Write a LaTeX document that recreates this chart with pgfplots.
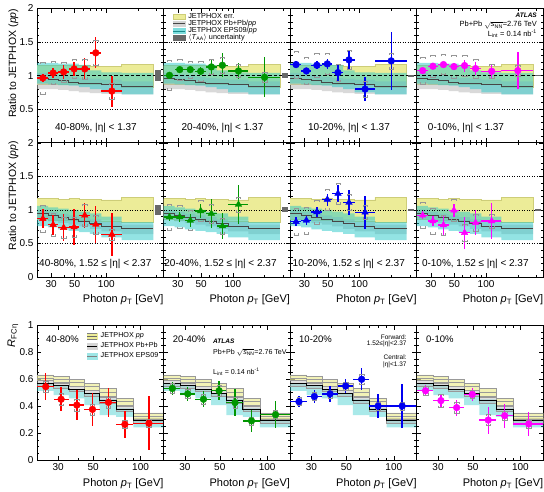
\documentclass[border=0pt]{standalone}
\usepackage{amsmath}
\usepackage{fontspec}
\setmainfont{Liberation Sans}
\usepackage{pgfplots}
\usepackage{pgfplotstable}
\pgfplotsset{compat=1.18}

\definecolor{yelF}{RGB}{236,236,152}
\definecolor{yelL}{RGB}{205,205,120}
\definecolor{grF}{RGB}{185,185,185}
\definecolor{cyF}{RGB}{40,200,200}
\definecolor{lnD}{RGB}{70,70,70}
\definecolor{taaG}{RGB}{105,105,105}
\definecolor{sysG}{RGB}{150,150,150}
\definecolor{cRed}{RGB}{255,0,0}
\definecolor{cGreen}{RGB}{0,150,0}
\definecolor{cBlue}{RGB}{0,0,240}
\definecolor{cMag}{RGB}{255,0,255}

\newcommand{\fsz}[1]{\fontsize{#1}{#1}\selectfont}

% systematic brackets
\pgfdeclareplotmark{brT}{%
  \pgfpathmoveto{\pgfqpoint{-2.2pt}{-1.8pt}}\pgfpathlineto{\pgfqpoint{-2.2pt}{0pt}}%
  \pgfpathlineto{\pgfqpoint{2.2pt}{0pt}}\pgfpathlineto{\pgfqpoint{2.2pt}{-1.8pt}}\pgfusepathqstroke}
\pgfdeclareplotmark{brB}{%
  \pgfpathmoveto{\pgfqpoint{-2.2pt}{1.8pt}}\pgfpathlineto{\pgfqpoint{-2.2pt}{0pt}}%
  \pgfpathlineto{\pgfqpoint{2.2pt}{0pt}}\pgfpathlineto{\pgfqpoint{2.2pt}{1.8pt}}\pgfusepathqstroke}

% data: central |eta|<1.37, ratio to JETPHOX
\pgfplotstableread{
x    lo  hi  y1    e1    s1   y2    e2   s2   y3    e3   s3   y4    e4   s4
25   22  28  0.965 0.065 0.24 1.005 0.05 0.22 1.165 0.05 0.20 1.075 0.04 0.20
31.3 28  35  1.04  0.08  0.17 1.09  0.04 0.16 1.07  0.05 0.20 1.14  0.04 0.17
39.4 35  44  1.055 0.10  0.15 1.09  0.04 0.13 1.155 0.06 0.18 1.165 0.04 0.15
49.5 44  55  1.10  0.10  0.14 1.065 0.06 0.15 1.175 0.07 0.16 1.135 0.05 0.17
62.5 55  70  1.10  0.17  0.15 1.13  0.12 0.11 1.045 0.12 0.13 1.15  0.09 0.16
79.5 70  90  1.34  0.23  0.19 1.155 0.18 0.12 1.235 0.13 0.14 1.105 0.10 0.14
113  90  140 0.77  0.23  0.12 1.07  0.12 0.10 0.80  0.18 0.12 1.065 0.10 0.10
}\datA
\pgfplotstableread{
x    lo  hi  y2    e2   s2   y3    e3   s3   y4    e4   s4
200  140 280 0.975 0.30 0.07 1.22  0.43 0.12 1.075 0.27 0.08
}\datAx
% forward 1.52<|eta|<2.37
\pgfplotstableread{
x    lo  hi  y1    e1   s1   y2    e2   s2   y3    e3   s3   y4    e4   s4
25   22  28  0.87  0.14 0.20 0.895 0.06 0.19 0.825 0.07 0.20 0.92  0.06 0.19
31.3 28  35  0.78  0.15 0.17 0.895 0.07 0.17 0.845 0.07 0.20 0.835 0.07 0.19
39.4 35  44  0.735 0.20 0.15 0.845 0.10 0.15 0.97  0.08 0.18 0.775 0.15 0.15
49.5 44  55  0.745 0.27 0.15 0.985 0.10 0.16 1.155 0.09 0.16 0.995 0.10 0.16
62.5 55  70  0.92  0.19 0.16 0.945 0.22 0.14 1.245 0.12 0.16 0.66  0.24 0.13
79.5 70  90  0.785 0.27 0.14 0.76  0.19 0.12 1.11  0.19 0.12 0.81  0.19 0.12
113  90  140 0.635 0.32 0.08 1.08  0.29 0.11 0.965 0.25 0.10 0.835 0.27 0.10
}\datB
% R_FCeta
\pgfplotstableread{
x    lo  hi  y1    e1   s1    y2    e2   s2    y3    e3   s3   y4    e4   s4
25   22  28  0.543 0.10 0.04  0.53  0.05 0.035 0.432 0.04 0.03 0.513 0.04 0.03
31.3 28  35  0.45  0.09 0.045 0.49  0.05 0.035 0.47  0.05 0.03 0.44  0.05 0.05
39.4 35  44  0.407 0.11 0.045 0.45  0.06 0.04  0.49  0.06 0.03 0.388 0.06 0.04
49.5 44  55  0.375 0.12 0.04  0.513 0.07 0.04  0.548 0.05 0.03 0.486 0.05 0.03
62.5 55  70  0.427 0.11 0.04  0.425 0.10 0.04  0.598 0.08 0.04 0.296 0.10 0.04
79.5 70  90  0.264 0.10 0.03  0.29  0.08 0.03  0.40  0.09 0.03 0.328 0.09 0.03
113  90  140 0.272 0.20 0.03  0.336 0.10 0.03  0.40  0.16 0.03 0.267 0.09 0.03
}\datC

\pgfplotsset{
  dotl/.style={black, line width=0.8pt, dash pattern=on 0.9pt off 1.6pt, forget plot},
  dashl/.style={black, line width=0.8pt, dash pattern=on 3.5pt off 2pt, forget plot},
}

% axis wrappers (options written out, not in a style)
\newcommand{\topaxis}[2]{%
\begin{axis}[/pgfplots/xmode=log, scale only axis, width=126.6pt, height=134.3pt,
  xmin=22, xmax=350, ymin=0, ymax=2,
  tick align=inside, major tick length=4.5pt, minor tick length=2.5pt,
  axis line style={line width=0.8pt}, tick style={black, line width=0.5pt},
  ticklabel style={font=\fsz{10}},
  xtick={30,50,100}, xticklabels={}, yticklabels={},
  minor xtick={40,60,70,80,90,200,300},
  ytick={0,0.5,1,1.5,2}, minor y tick num=4, #1]
#2
\end{axis}}
\newcommand{\botaxis}[2]{%
\begin{axis}[/pgfplots/xmode=log, scale only axis, width=126.6pt, height=135pt,
  xmin=22, xmax=140, ymin=0, ymax=1,
  tick align=inside, major tick length=4.5pt, minor tick length=2.5pt,
  axis line style={line width=0.8pt}, tick style={black, line width=0.5pt},
  ticklabel style={font=\fsz{10}},
  xtick={30,50,100}, xticklabels={30,50,100}, yticklabels={},
  minor xtick={40,60,70,80,90},
  ytick={0,0.2,0.4,0.6,0.8,1}, minor y tick num=3, #1]
#2
\end{axis}}

% theory bands (step polygons: upper edge left to right, lower edge back)
\newcommand{\bandsA}{%
  \addplot[const plot, fill=yelF, draw=yelL, line width=0.4pt, forget plot] coordinates {
    (22,1.15)(28,1.15)(35,1.15)(44,1.15)(55,1.15)(70,1.14)(90,1.14)(140,1.17)(280,1.17)
    (280,0.83)(140,0.87)(90,0.88)(70,0.87)(55,0.87)(44,0.87)(35,0.87)(28,0.87)(22,0.87)};
  \addplot[const plot, fill=grF, fill opacity=0.55, draw=none, forget plot] coordinates {
    (22,1.04)(28,1.02)(35,1.005)(44,0.98)(55,0.965)(70,0.955)(90,0.94)(140,0.915)(280,0.915)
    (280,0.72)(140,0.73)(90,0.74)(70,0.75)(55,0.77)(44,0.79)(35,0.80)(28,0.80)(22,0.80)};
  \addplot[const plot, fill=cyF, fill opacity=0.5, draw=none, forget plot] coordinates {
    (22,1.19)(28,1.19)(35,1.18)(44,1.18)(55,1.16)(70,1.08)(90,1.05)(140,1.04)(280,1.04)
    (280,0.72)(140,0.75)(90,0.80)(70,0.83)(55,0.85)(44,0.86)(35,0.87)(28,0.88)(22,0.88)};
  \addplot[const plot, lnD, line width=1pt, forget plot] coordinates {
    (22,0.965)(28,0.945)(35,0.93)(44,0.905)(55,0.89)(70,0.88)(90,0.865)(140,0.84)(280,0.84)};
}
\newcommand{\bandsB}{%
  \addplot[const plot, fill=yelF, draw=yelL, line width=0.4pt, forget plot] coordinates {
    (22,1.17)(28,1.17)(35,1.16)(44,1.17)(55,1.16)(70,1.16)(90,1.15)(140,1.19)(280,1.19)
    (280,0.82)(140,0.84)(90,0.84)(70,0.85)(55,0.85)(44,0.85)(35,0.85)(28,0.86)(22,0.86)};
  \addplot[const plot, fill=grF, fill opacity=0.55, draw=none, forget plot] coordinates {
    (22,1.005)(28,0.97)(35,0.945)(44,0.92)(55,0.895)(70,0.86)(90,0.82)(140,0.78)(280,0.78)
    (280,0.64)(140,0.68)(90,0.72)(70,0.755)(55,0.78)(44,0.805)(35,0.83)(28,0.865)(22,0.865)};
  \addplot[const plot, fill=cyF, fill opacity=0.5, draw=none, forget plot] coordinates {
    (22,1.06)(28,1.04)(35,1.02)(44,1.0)(55,0.975)(70,0.95)(90,0.90)(140,0.82)(280,0.82)
    (280,0.55)(140,0.59)(90,0.645)(70,0.67)(55,0.69)(44,0.71)(35,0.74)(28,0.76)(22,0.76)};
  \addplot[const plot, lnD, line width=1pt, forget plot] coordinates {
    (22,0.945)(28,0.91)(35,0.885)(44,0.86)(55,0.835)(70,0.80)(90,0.76)(140,0.72)(280,0.72)};
}
\newcommand{\bandsC}{%
  \addplot[const plot, fill=cyF, fill opacity=0.4, draw=none, forget plot] coordinates {
    (22,0.565)(28,0.548)(35,0.523)(44,0.494)(55,0.45)(70,0.383)(90,0.29)(140,0.29)
    (140,0.242)(90,0.32)(70,0.333)(55,0.407)(44,0.457)(35,0.48)(28,0.513)(22,0.513)};
  \addplot[const plot, fill=grF, fill opacity=0.45, draw=gray!80, line width=0.45pt, forget plot] coordinates {
    (22,0.588)(28,0.57)(35,0.546)(44,0.514)(55,0.464)(70,0.398)(90,0.31)(140,0.31)
    (140,0.27)(90,0.358)(70,0.424)(55,0.474)(44,0.506)(35,0.53)(28,0.548)(22,0.548)};
  \addplot[const plot, fill=yelF, fill opacity=0.7, draw=gray!80, line width=0.45pt, forget plot] coordinates {
    (22,0.63)(28,0.622)(35,0.598)(44,0.568)(55,0.531)(70,0.457)(90,0.35)(140,0.35)
    (140,0.30)(90,0.407)(70,0.474)(55,0.519)(44,0.548)(35,0.573)(28,0.588)(22,0.588)};
  \addplot[const plot, gray!80, line width=0.45pt, forget plot] coordinates {
    (22,0.609)(28,0.598)(35,0.573)(44,0.544)(55,0.503)(70,0.432)(90,0.325)(140,0.325)};
  \addplot[const plot, black, line width=0.9pt, forget plot] coordinates {
    (22,0.568)(28,0.55)(35,0.526)(44,0.494)(55,0.444)(70,0.378)(90,0.29)(140,0.29)};
}
\newcommand{\taabox}[2]{%
  \addplot[fill=taaG, draw=none, forget plot] coordinates {(290,#1) (330,#1) (330,#2) (290,#2)};
}
\newcommand{\dataset}[6]{%
  \addplot[sysG, line width=0.5pt, only marks, mark=brT, forget plot]
    table[x=x, y expr=\thisrow{#2}+\thisrow{#4}]{#1};
  \addplot[sysG, line width=0.5pt, only marks, mark=brB, forget plot]
    table[x=x, y expr=\thisrow{#2}-\thisrow{#4}]{#1};
  \addplot[#5, mark=#6, only marks, forget plot,
    error bars/.cd, x dir=both, x explicit, y dir=both, y explicit,
    error mark=none, error bar style={line width=1.4pt}]
    table[x=x, y=#2, x error minus expr=\thisrow{x}-\thisrow{lo},
      x error plus expr=\thisrow{hi}-\thisrow{x}, y error=#3]{#1};
}
\newcommand{\toprefs}[1]{%
  \addplot[dotl] coordinates {(22,0.5) (350,0.5)};
  \addplot[dotl] coordinates {(22,1.5) (350,1.5)};
  \addplot[#1] coordinates {(22,1) (350,1)};
}

\begin{document}
\begin{tikzpicture}

% ---------- row 1: |eta| < 1.37 ----------
\topaxis{at={(37pt,-142.8pt)}, yticklabels={,0.5,1,1.5,2}}{%
\bandsA\toprefs{dashl}\taabox{0.92}{1.08}
\dataset{\datA}{y1}{e1}{s1}{cRed, mark size=3.4pt}{*}}
\topaxis{at={(163.6pt,-142.8pt)}, legend cell align=left,
  legend style={at={(0.07,0.965)}, anchor=north west, draw=none, fill=none,
    inner sep=0pt, row sep=0pt, font=\fsz{7.3},
    nodes={inner sep=0.6pt, text height=4.8pt, text depth=1pt},
    /tikz/every odd column/.append style={column sep=2pt}}}{%
\addlegendimage{legend image code/.code={\draw[yelL, fill=yelF] (0pt,-2.4pt) rectangle (12pt,2.4pt);}}
\addlegendentry{JETPHOX err.}
\addlegendimage{legend image code/.code={\fill[grF!60] (0pt,-2.4pt) rectangle (12pt,2.4pt); \draw[lnD, line width=1pt] (0pt,0pt) -- (12pt,0pt);}}
\addlegendentry{JETPHOX Pb+Pb/\textit{pp}}
\addlegendimage{legend image code/.code={\fill[cyF!60] (0pt,-2.4pt) rectangle (12pt,2.4pt); \draw[cyF!70!black, line width=0.6pt] (0pt,0pt) -- (12pt,0pt);}}
\addlegendentry{JETPHOX EPS09/\textit{pp}}
\addlegendimage{legend image code/.code={\fill[taaG] (0pt,-2.4pt) rectangle (12pt,2.4pt);}}
\addlegendentry{$\langle$\textit{T}\textsubscript{AA}$\rangle$ uncertainty}
\bandsA\toprefs{dashl}\taabox{0.963}{1.037}
\dataset{\datA}{y2}{e2}{s2}{cGreen, mark size=3.4pt}{*}
\dataset{\datAx}{y2}{e2}{s2}{cGreen, mark size=3.4pt}{*}}
\topaxis{at={(290.2pt,-142.8pt)}}{%
\bandsA\toprefs{dashl}\taabox{0.985}{1.015}
\dataset{\datA}{y3}{e3}{s3}{cBlue, mark size=3.4pt}{*}
\dataset{\datAx}{y3}{e3}{s3}{cBlue, mark size=3.4pt}{*}}
\topaxis{at={(416.8pt,-142.8pt)}}{%
\bandsA\toprefs{dashl}\taabox{0.988}{1.012}
\dataset{\datA}{y4}{e4}{s4}{cMag, mark size=3.4pt}{*}
\dataset{\datAx}{y4}{e4}{s4}{cMag, mark size=3.4pt}{*}}

% ---------- row 2: 1.52 < |eta| < 2.37 ----------
\topaxis{at={(37pt,-277.1pt)}, yticklabels={0,0.5,1,1.5,2}, xticklabels={30,50,100}}{%
\bandsB\toprefs{dotl}\taabox{0.92}{1.08}
\dataset{\datB}{y1}{e1}{s1}{cRed, mark size=3.8pt}{triangle*}}
\topaxis{at={(163.6pt,-277.1pt)}, xticklabels={30,50,100}}{%
\bandsB\toprefs{dotl}\taabox{0.963}{1.037}
\dataset{\datB}{y2}{e2}{s2}{cGreen, mark size=3.8pt}{triangle*}}
\topaxis{at={(290.2pt,-277.1pt)}, xticklabels={30,50,100}}{%
\bandsB\toprefs{dotl}\taabox{0.985}{1.015}
\dataset{\datB}{y3}{e3}{s3}{cBlue, mark size=3.8pt}{triangle*}}
\topaxis{at={(416.8pt,-277.1pt)}, xticklabels={30,50,100}}{%
\bandsB\toprefs{dotl}\taabox{0.988}{1.012}
\dataset{\datB}{y4}{e4}{s4}{cMag, mark size=3.8pt}{triangle*}}

% ---------- row 3: R_FCeta ----------
\botaxis{at={(37pt,-460pt)}, yticklabels={0,0.2,0.4,0.6,0.8,1},
  legend cell align=left,
  legend style={at={(0.39,0.955)}, anchor=north west, draw=none, fill=none,
    inner sep=0pt, row sep=0pt, font=\fsz{7.2},
    nodes={inner sep=1.2pt, text height=5.5pt, text depth=2pt},
    /tikz/every odd column/.append style={column sep=2pt}}}{%
\addlegendimage{legend image code/.code={\fill[yelF] (0pt,-3pt) rectangle (10pt,3pt); \draw[gray, line width=0.4pt] (0pt,-3pt) -- (10pt,-3pt) (0pt,3pt) -- (10pt,3pt); \draw[black!60, line width=0.7pt] (0pt,0pt) -- (10pt,0pt);}}
\addlegendentry{JETPHOX \textit{pp}}
\addlegendimage{legend image code/.code={\fill[grF!60] (0pt,-3pt) rectangle (10pt,3pt); \draw[black, line width=0.9pt] (0pt,0pt) -- (10pt,0pt);}}
\addlegendentry{JETPHOX Pb+Pb}
\addlegendimage{legend image code/.code={\fill[cyF!45] (0pt,-3pt) rectangle (10pt,3pt); \draw[gray, line width=0.7pt] (0pt,0pt) -- (10pt,0pt);}}
\addlegendentry{JETPHOX EPS09}
\bandsC
\dataset{\datC}{y1}{e1}{s1}{cRed, mark size=3.4pt}{*}}
\botaxis{at={(163.6pt,-460pt)}}{%
\bandsC
\dataset{\datC}{y2}{e2}{s2}{cGreen, mark size=3.4pt}{*}}
\botaxis{at={(290.2pt,-460pt)}}{%
\bandsC
\dataset{\datC}{y3}{e3}{s3}{cBlue, mark size=3.4pt}{*}}
\botaxis{at={(416.8pt,-460pt)}}{%
\bandsC
\dataset{\datC}{y4}{e4}{s4}{cMag, mark size=3.4pt}{*}}

% ---------- texts ----------
\foreach \xx/\lab in {96/{40-80\%, |η| < 1.37}, 222.5/{20-40\%, |η| < 1.37}, 349/{10-20\%, |η| < 1.37}, 466/{0-10\%, |η| < 1.37}}
  \node[font=\fsz{10}] at (\xx pt,-128.3pt) {\lab};
\foreach \xx/\lab in {95.3/{40-80\%, 1.52 ≤ |η| < 2.37}, 220.5/{20-40\%, 1.52 ≤ |η| < 2.37}, 348.8/{10-20\%, 1.52 ≤ |η| < 2.37}, 475.3/{0-10\%, 1.52 ≤ |η| < 2.37}}
  \node[font=\fsz{10}] at (\xx pt,-264pt) {\lab};
\foreach \xx/\lab in {46/{40-80\%}, 172.7/{20-40\%}, 299/{10-20\%}, 426/{0-10\%}}
  \node[font=\fsz{9.5}, anchor=west, inner sep=0pt] at (\xx pt,-339pt) {\lab};
\foreach \xx in {163.6, 290.2, 416.8, 543.4} {
  \node[font=\fsz{11}, anchor=east, inner sep=0pt] at (\xx pt,-300pt) {Photon \textit{p}\textsubscript{T} [GeV]};
  \node[font=\fsz{11}, anchor=east, inner sep=0pt] at (\xx pt,-484pt) {Photon \textit{p}\textsubscript{T} [GeV]};
}
\node[font=\fsz{10.5}, rotate=90, anchor=south east, inner sep=0pt] at (18.5pt,-8.5pt) {Ratio to JETPHOX (\textit{pp})};
\node[font=\fsz{10.5}, rotate=90, anchor=south east, inner sep=0pt] at (18.5pt,-141pt) {Ratio to JETPHOX (\textit{pp})};
\node[font=\fsz{11}, rotate=90, anchor=south east, inner sep=0pt] at (18.5pt,-324pt) {\textit{R}\textsubscript{FCη}};

\node[font=\fsz{6.5}\bfseries\itshape, anchor=east, inner sep=0pt] at (537pt,-15.7pt) {ATLAS};
\node[font=\fsz{7.5}, anchor=east, inner sep=0pt] at (537pt,-25pt) {Pb+Pb $\sqrt{\text{\textit{s}}_{\text{NN}}}$=2.76 TeV};
\node[font=\fsz{7.5}, anchor=east, inner sep=0pt] at (537pt,-33.5pt) {L\textsubscript{int} = 0.14 nb\textsuperscript{-1}};

\node[font=\fsz{6.5}\bfseries\itshape, anchor=west, inner sep=0pt] at (213pt,-341.7pt) {ATLAS};
\node[font=\fsz{7.1}, anchor=west, inner sep=0pt] at (213pt,-352.7pt) {Pb+Pb $\sqrt{\text{\textit{s}}_{\text{NN}}}$=2.76 TeV};
\node[font=\fsz{7.1}, anchor=west, inner sep=0pt] at (213pt,-371.7pt) {L\textsubscript{int} = 0.14 nb\textsuperscript{-1}};

\node[font=\fsz{6.5}, anchor=east, inner sep=0pt] at (406.7pt,-336.7pt) {Forward:};
\node[font=\fsz{6.5}, anchor=east, inner sep=0pt] at (406.7pt,-344.3pt) {1.52≤|η|<2.37};
\node[font=\fsz{6.5}, anchor=east, inner sep=0pt] at (406.7pt,-356.7pt) {Central:};
\node[font=\fsz{6.5}, anchor=east, inner sep=0pt] at (406.7pt,-365pt) {|η|<1.37};

\pgfresetboundingbox
\path[use as bounding box] (0,0) rectangle (544pt,-491pt);
\end{tikzpicture}
\end{document}
